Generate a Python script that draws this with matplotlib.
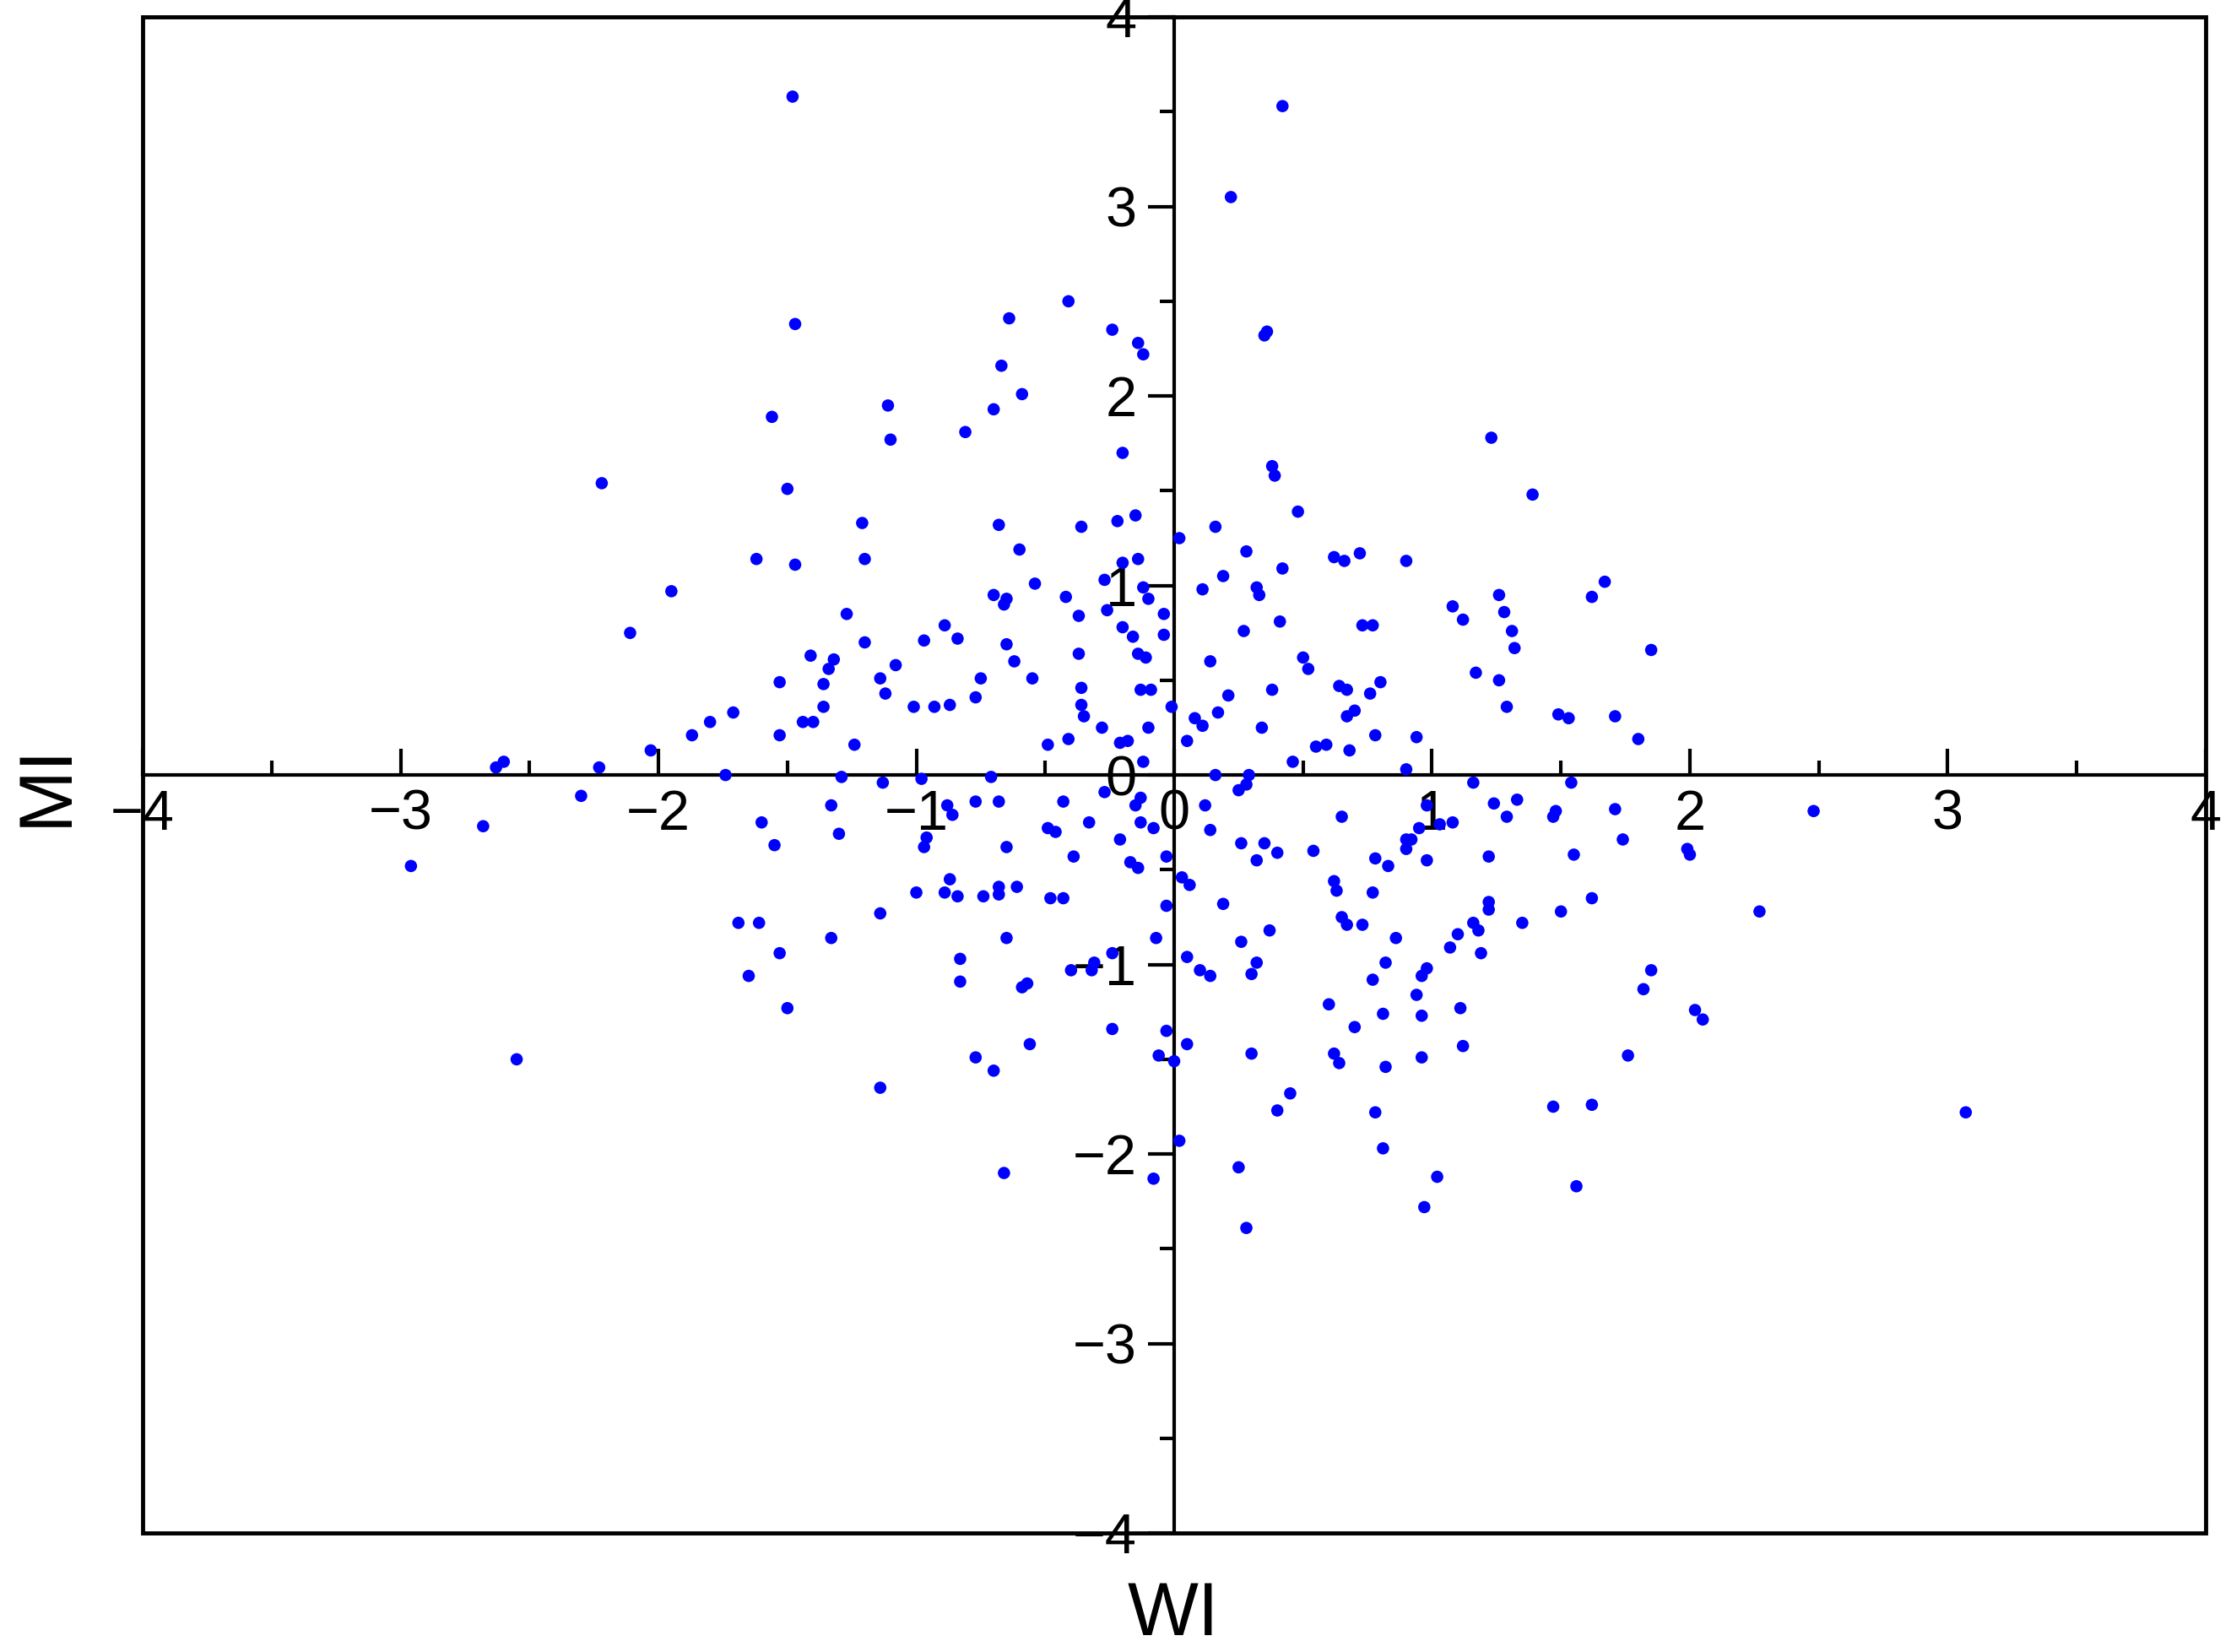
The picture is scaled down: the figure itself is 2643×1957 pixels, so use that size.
import matplotlib
matplotlib.use("Agg")
import matplotlib.pyplot as plt
from matplotlib.patches import Rectangle
from matplotlib.ticker import MultipleLocator

plt.rcParams['font.family'] = ['Liberation Sans', 'DejaVu Sans']

pts = [
(-1.48,3.58),(0.42,3.53),(0.22,3.05),(-1.47,2.38),(-0.41,2.50),(-0.64,2.41),(-0.24,2.35),
(-0.14,2.28),(-0.12,2.22),(0.36,2.34),(0.35,2.32),(-0.67,2.16),(-0.59,2.01),(-0.70,1.93),
(-1.56,1.89),(-1.11,1.95),(-1.10,1.77),(-0.81,1.81),(-0.20,1.70),(-2.22,1.54),(-1.50,1.51),
(0.38,1.63),(0.39,1.58),(1.23,1.78),(1.39,1.48),(0.48,1.39),(-0.15,1.37),(-1.21,1.33),
(-0.68,1.32),(-0.36,1.31),(-0.22,1.34),(0.16,1.31),(0.02,1.25),(-1.62,1.14),(-1.47,1.11),
(-1.20,1.14),(-0.60,1.19),(-0.20,1.12),(-0.14,1.14),(0.28,1.18),(0.62,1.15),(0.66,1.13),
(0.72,1.17),(0.90,1.13),(0.42,1.09),(0.19,1.05),(0.11,0.98),(1.67,1.02),(1.62,0.94),
(-0.54,1.01),(-0.70,0.95),(-0.65,0.93),(-0.66,0.90),(-1.95,0.97),(-0.27,1.03),(-0.42,0.94),
(-0.12,0.99),(-0.10,0.93),(0.32,0.99),(0.33,0.95),(1.08,0.89),(1.12,0.82),(1.26,0.95),
(1.28,0.86),(1.31,0.76),(1.32,0.67),(-0.26,0.87),(-0.37,0.84),(-0.20,0.78),(-0.04,0.85),
(-1.27,0.85),(-0.89,0.79),(-1.20,0.70),(-0.97,0.71),(-0.84,0.72),(-0.65,0.69),(-0.16,0.73),
(-0.14,0.64),(-0.04,0.74),(0.27,0.76),(0.41,0.81),(0.73,0.79),(0.77,0.79),(-2.11,0.75),
(1.85,0.66),(-1.41,0.63),(-1.32,0.61),(-1.34,0.56),(-1.08,0.58),(-0.62,0.60),(-0.37,0.64),
(-0.11,0.62),(0.14,0.60),(0.50,0.62),(0.52,0.56),(1.17,0.54),(-1.53,0.49),(-1.36,0.48),
(-1.36,0.36),(-1.14,0.51),(-1.12,0.43),(-0.75,0.51),(-0.55,0.51),(-0.13,0.45),(-0.09,0.45),
(-0.36,0.46),(0.38,0.45),(0.64,0.47),(0.67,0.45),(0.76,0.43),(1.26,0.50),(0.80,0.49),
(0.21,0.42),(-0.77,0.41),(-1.01,0.36),(-0.93,0.36),(-0.87,0.37),(-0.36,0.37),(-0.35,0.31),
(-0.01,0.36),(0.70,0.34),(0.67,0.31),(1.29,0.36),(-1.71,0.33),(-1.80,0.28),(-1.44,0.28),
(-1.40,0.28),(0.08,0.30),(0.11,0.26),(0.17,0.33),(1.49,0.32),(1.53,0.30),(1.71,0.31),
(-1.87,0.21),(-1.53,0.21),(-0.28,0.25),(-0.10,0.25),(0.34,0.25),(0.78,0.21),(0.94,0.20),
(1.80,0.19),(-1.24,0.16),(-0.49,0.16),(-0.41,0.19),(-0.21,0.17),(-0.18,0.18),(0.05,0.18),
(0.55,0.15),(0.59,0.16),(0.68,0.13),(0.46,0.07),(-2.03,0.13),(-2.60,0.07),(-2.63,0.04),
(-2.23,0.04),(-1.74,0.00),(-1.29,-0.01),(-1.13,-0.04),(-0.98,-0.02),(-0.71,-0.01),(-0.12,0.07),
(0.16,0.00),(0.29,0.00),(0.28,-0.05),(0.25,-0.08),(0.90,0.03),(1.16,-0.04),(1.54,-0.04),
(-2.30,-0.11),(-1.33,-0.16),(-0.88,-0.16),(-0.86,-0.21),(-0.77,-0.14),(-0.68,-0.14),(-0.43,-0.14),
(-0.27,-0.09),(-0.13,-0.12),(-0.15,-0.16),(-0.13,-0.25),(0.12,-0.16),(1.24,-0.15),(1.33,-0.13),
(1.48,-0.19),(1.47,-0.22),(1.71,-0.18),(2.48,-0.19),(0.65,-0.22),(0.98,-0.16),(0.95,-0.28),
(1.29,-0.22),(-2.68,-0.27),(-1.60,-0.25),(-0.46,-0.30),(-0.49,-0.28),(-0.33,-0.25),(-0.08,-0.28),
(0.14,-0.29),(1.03,-0.26),(1.08,-0.25),(1.74,-0.34),(-1.30,-0.31),(-0.96,-0.33),(-0.97,-0.38),
(-0.65,-0.38),(-1.55,-0.37),(-0.39,-0.43),(-0.21,-0.34),(0.26,-0.36),(0.35,-0.36),(0.40,-0.41),
(0.32,-0.45),(0.54,-0.40),(0.78,-0.44),(0.90,-0.34),(0.92,-0.34),(0.90,-0.39),(1.22,-0.43),
(1.55,-0.42),(1.99,-0.39),(2.00,-0.42),(-2.96,-0.48),(-0.17,-0.46),(-0.14,-0.49),(-0.03,-0.43),
(0.03,-0.54),(0.83,-0.48),(0.98,-0.45),(0.62,-0.56),(0.63,-0.61),(-0.87,-0.55),(-0.89,-0.62),
(-0.84,-0.64),(-0.68,-0.59),(-0.61,-0.59),(-0.68,-0.63),(0.06,-0.58),(-1.00,-0.62),(-0.74,-0.64),
(-0.48,-0.65),(-0.43,-0.65),(0.77,-0.62),(1.22,-0.67),(1.22,-0.71),(-0.03,-0.69),(0.19,-0.68),
(-1.14,-0.73),(1.62,-0.65),(1.50,-0.72),(2.27,-0.72),(0.65,-0.75),(0.67,-0.79),(0.73,-0.79),
(1.16,-0.78),(1.18,-0.82),(1.35,-0.78),(-1.69,-0.78),(-1.61,-0.78),(0.37,-0.82),(-0.07,-0.86),
(0.86,-0.86),(-0.65,-0.86),(-1.33,-0.86),(0.26,-0.88),(1.10,-0.84),(1.07,-0.91),(1.19,-0.94),
(-1.53,-0.94),(-0.83,-0.97),(-0.24,-0.94),(0.05,-0.96),(0.82,-0.99),(-0.31,-0.99),(-0.32,-1.03),
(-0.40,-1.03),(0.10,-1.03),(0.32,-0.99),(0.30,-1.05),(0.98,-1.02),(1.85,-1.03),(-1.65,-1.06),
(-0.83,-1.09),(0.14,-1.06),(-0.59,-1.12),(-0.57,-1.10),(0.96,-1.06),(1.82,-1.13),(0.77,-1.08),
(0.94,-1.16),(0.60,-1.21),(-1.50,-1.23),(1.11,-1.23),(0.81,-1.26),(0.96,-1.27),(0.70,-1.33),
(2.02,-1.24),(2.05,-1.29),(-0.24,-1.34),(-0.56,-1.42),(-0.03,-1.35),(0.05,-1.42),(0.30,-1.47),
(0.62,-1.47),(0.64,-1.52),(1.12,-1.43),(-0.77,-1.49),(-0.70,-1.56),(-0.06,-1.48),(0.00,-1.51),
(0.82,-1.54),(0.96,-1.49),(1.76,-1.48),(-2.55,-1.50),(-1.14,-1.65),(0.45,-1.68),(0.40,-1.77),
(0.78,-1.78),(1.47,-1.75),(1.62,-1.74),(3.07,-1.78),(0.81,-1.97),(0.02,-1.93),(-0.66,-2.10),
(-0.08,-2.13),(0.25,-2.07),(1.02,-2.12),(1.56,-2.17),(0.97,-2.28),(0.28,-2.39),
]
wi = [p[0] for p in pts]
mi = [p[1] for p in pts]

fig = plt.figure(figsize=(26.43, 19.57), dpi=100)
ax = fig.add_axes([0.064, 0.072, 0.9246, 0.9177])
ax.scatter(wi, mi, s=110, color='#0000ff', edgecolors='none', zorder=3)
ax.set_xlim(-4, 4)
ax.set_ylim(-4, 4)

for s in ['top', 'right']:
    ax.spines[s].set_visible(False)
ax.spines['left'].set_position(('data', 0))
ax.spines['bottom'].set_position(('data', 0))
for s in ['left', 'bottom']:
    ax.spines[s].set_linewidth(3)
ax.add_patch(Rectangle((0, 0), 1, 1, transform=ax.transAxes, fill=False,
                       lw=3.5, color='black', clip_on=False, zorder=4))

ax.xaxis.set_major_locator(MultipleLocator(1))
ax.yaxis.set_major_locator(MultipleLocator(1))
ax.xaxis.set_minor_locator(MultipleLocator(0.5))
ax.yaxis.set_minor_locator(MultipleLocator(0.5))
ax.tick_params(axis='x', which='major', direction='in', length=22, width=3, labelsize=48, pad=12)
ax.tick_params(axis='x', which='minor', direction='in', length=12, width=3)
ax.tick_params(axis='y', which='major', direction='out', length=22, width=3, labelsize=48, pad=10)
ax.tick_params(axis='y', which='minor', direction='out', length=12, width=3)
ax.set_xticklabels([]) if False else None
ax.xaxis.set_major_formatter(plt.FuncFormatter(lambda v, p: f"{v:.0f}".replace('-', '\u2212')))
ax.yaxis.set_major_formatter(plt.FuncFormatter(lambda v, p: f"{v:.0f}".replace('-', '\u2212')))

fig.text(0.526, 0.022, 'WI', ha='center', va='center', fontsize=64)
fig.text(0.021, 0.525, 'MI', ha='center', va='center', fontsize=64, rotation=90)

fig.savefig('out.png', dpi=100)
